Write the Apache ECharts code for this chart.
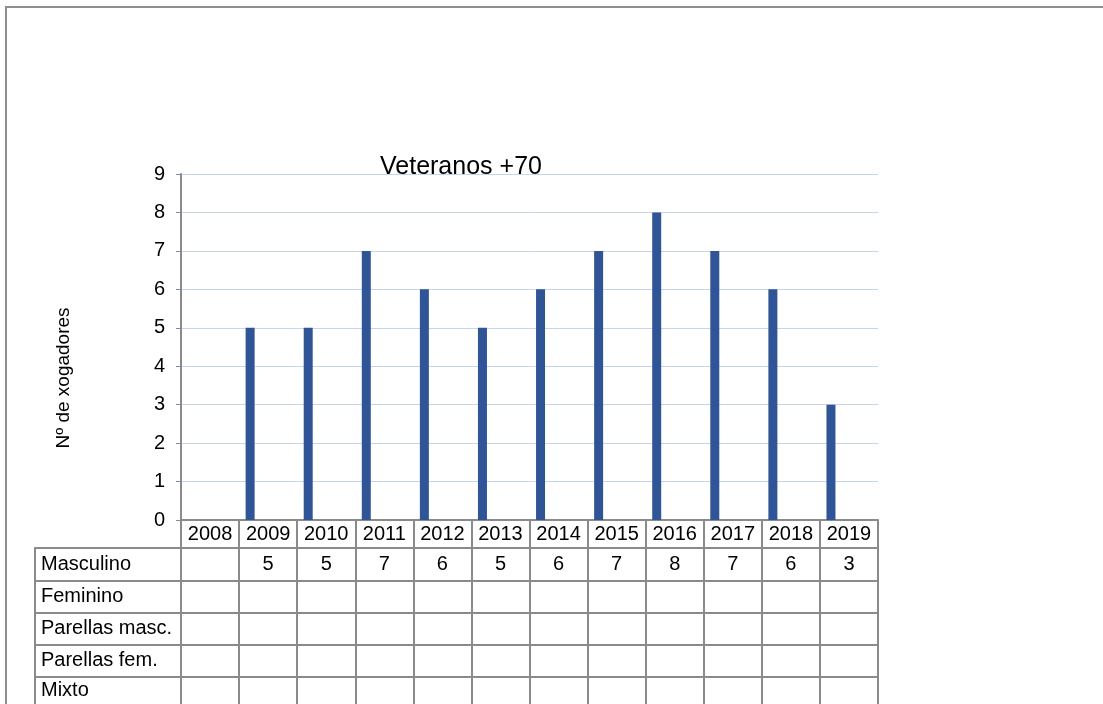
<!DOCTYPE html>
<html>
<head>
<meta charset="utf-8">
<script src="https://cdn.jsdelivr.net/npm/echarts@6/dist/echarts.min.js"></script>
<style>
html,body{margin:0;padding:0;background:#fff;}
#chart{position:absolute;left:0;top:0;width:1103px;height:704px;}
#frame{position:absolute;left:5px;top:6px;right:0;bottom:0;border-top:2px solid #8f8f8f;border-left:2px solid #8f8f8f;pointer-events:none;}
</style>
</head>
<body>
<div id="chart"></div>
<div id="frame"></div>
<script>
const title = 'Veteranos +70';
const yAxisName = 'Nº de xogadores';
const years = ['2008','2009','2010','2011','2012','2013','2014','2015','2016','2017','2018','2019'];
const rowNames = ['Masculino','Feminino','Parellas masc.','Parellas fem.','Mixto'];
const masculino = [null,5,5,7,6,5,6,7,8,7,6,3];
const feminino = [null,null,null,null,null,null,null,null,null,null,null,null];
const parellasMasc = [null,null,null,null,null,null,null,null,null,null,null,null];
const parellasFem = [null,null,null,null,null,null,null,null,null,null,null,null];
const mixto = [null,null,null,null,null,null,null,null,null,null,null,null];
const yTicks = {min:0, max:9, interval:1};

const rowValues = [masculino, feminino, parellasMasc, parellasFem, mixto];

const FONT = '"Liberation Sans", Arial, sans-serif';
const LINE = '#8a8a8a';
const PL = 181, PW = 697, PT = 174, PH = 346;
const ROW_TOP = 548, ROW_H = 32.25;

const grids = [{left:PL, top:PT, width:PW, height:PH}];
const xAxes = [{
  type:'category', data:years, gridIndex:0,
  axisLine:{show:true, lineStyle:{color:LINE, width:2}},
  axisTick:{show:true, interval:0, length:28, lineStyle:{color:LINE, width:2}},
  axisLabel:{interval:0, margin:14, verticalAlign:'middle', fontSize:20, color:'#000', fontFamily:FONT},
  splitLine:{show:false}
}];
const yAxes = [{
  type:'value', gridIndex:0, min:yTicks.min, max:yTicks.max, interval:yTicks.interval,
  name:yAxisName, nameLocation:'middle', nameGap:108,
  nameTextStyle:{fontSize:19, color:'#000', fontFamily:FONT, padding:[0,62,0,0]},
  axisLine:{show:true, lineStyle:{color:LINE, width:2}},
  axisTick:{show:true, length:5, lineStyle:{color:LINE, width:1}},
  axisLabel:{margin:16, fontSize:20, color:'#000', fontFamily:FONT},
  splitLine:{show:true, lineStyle:{color:'#c6d5ee', width:1}}
}];

rowNames.forEach((name, i) => {
  const g = grids.length;
  const last = i === rowNames.length - 1;
  grids.push({left:PL, top:ROW_TOP + i*ROW_H, width:PW, height:ROW_H});
  const vals = rowValues[i];
  xAxes.push({
    type:'category', data:years, gridIndex:g, position:'bottom',
    axisLine:{show:!last, lineStyle:{color:LINE, width:2}},
    axisTick:{show:false},
    axisLabel:{show:true, inside:true, interval:0, margin:16, verticalAlign:'middle',
      fontSize:20, color:'#000', fontFamily:FONT,
      formatter:(v, idx) => (vals[idx] == null ? '' : String(vals[idx]))},
    splitLine:{show:true, interval:0, lineStyle:{color:LINE, width:2}}
  });
  xAxes.push({
    type:'category', data:years, gridIndex:g, position:'top',
    axisLine:{show:true, lineStyle:{color:LINE, width:2}},
    axisTick:{show:false}, axisLabel:{show:false}, splitLine:{show:false}
  });
  yAxes.push({
    type:'category', data:[name], gridIndex:g, position:'left',
    axisLine:{show:true, lineStyle:{color:LINE, width:2}},
    axisTick:{show:!last, interval:0, length:146, lineStyle:{color:LINE, width:2}},
    axisLabel:{show:true, align:'left', margin:140, fontSize:20, color:'#000', fontFamily:FONT},
    splitLine:{show:false}
  });
  yAxes.push({
    type:'category', data:[name], gridIndex:g, position:'left', offset:146,
    axisLine:{show:true, lineStyle:{color:LINE, width:2}},
    axisTick:{show:false}, axisLabel:{show:false}, splitLine:{show:false}
  });
  yAxes.push({
    type:'category', data:[name], gridIndex:g, position:'right',
    axisLine:{show:true, lineStyle:{color:LINE, width:2}},
    axisTick:{show:false}, axisLabel:{show:false}, splitLine:{show:false}
  });
});

const seriesData = [masculino, feminino, parellasMasc, parellasFem, mixto];
const colors = ['#2f5597','#c0504d','#9bbb59','#8064a2','#4bacc6'];
const series = rowNames.map((name, i) => ({
  name, type:'bar', xAxisIndex:0, yAxisIndex:0, data:seriesData[i],
  barWidth:9, barGap:'0%', itemStyle:{color:colors[i]}, silent:true
}));

const chart = echarts.init(document.getElementById('chart'), null, {renderer:'canvas'});
chart.setOption({
  animation:false,
  backgroundColor:'#fff',
  textStyle:{fontFamily:FONT},
  title:{text:title, left:380, top:155, padding:0,
    textStyle:{fontSize:25, fontWeight:'normal', color:'#000', fontFamily:FONT}},
  grid:grids, xAxis:xAxes, yAxis:yAxes, series
});
</script>
</body>
</html>
